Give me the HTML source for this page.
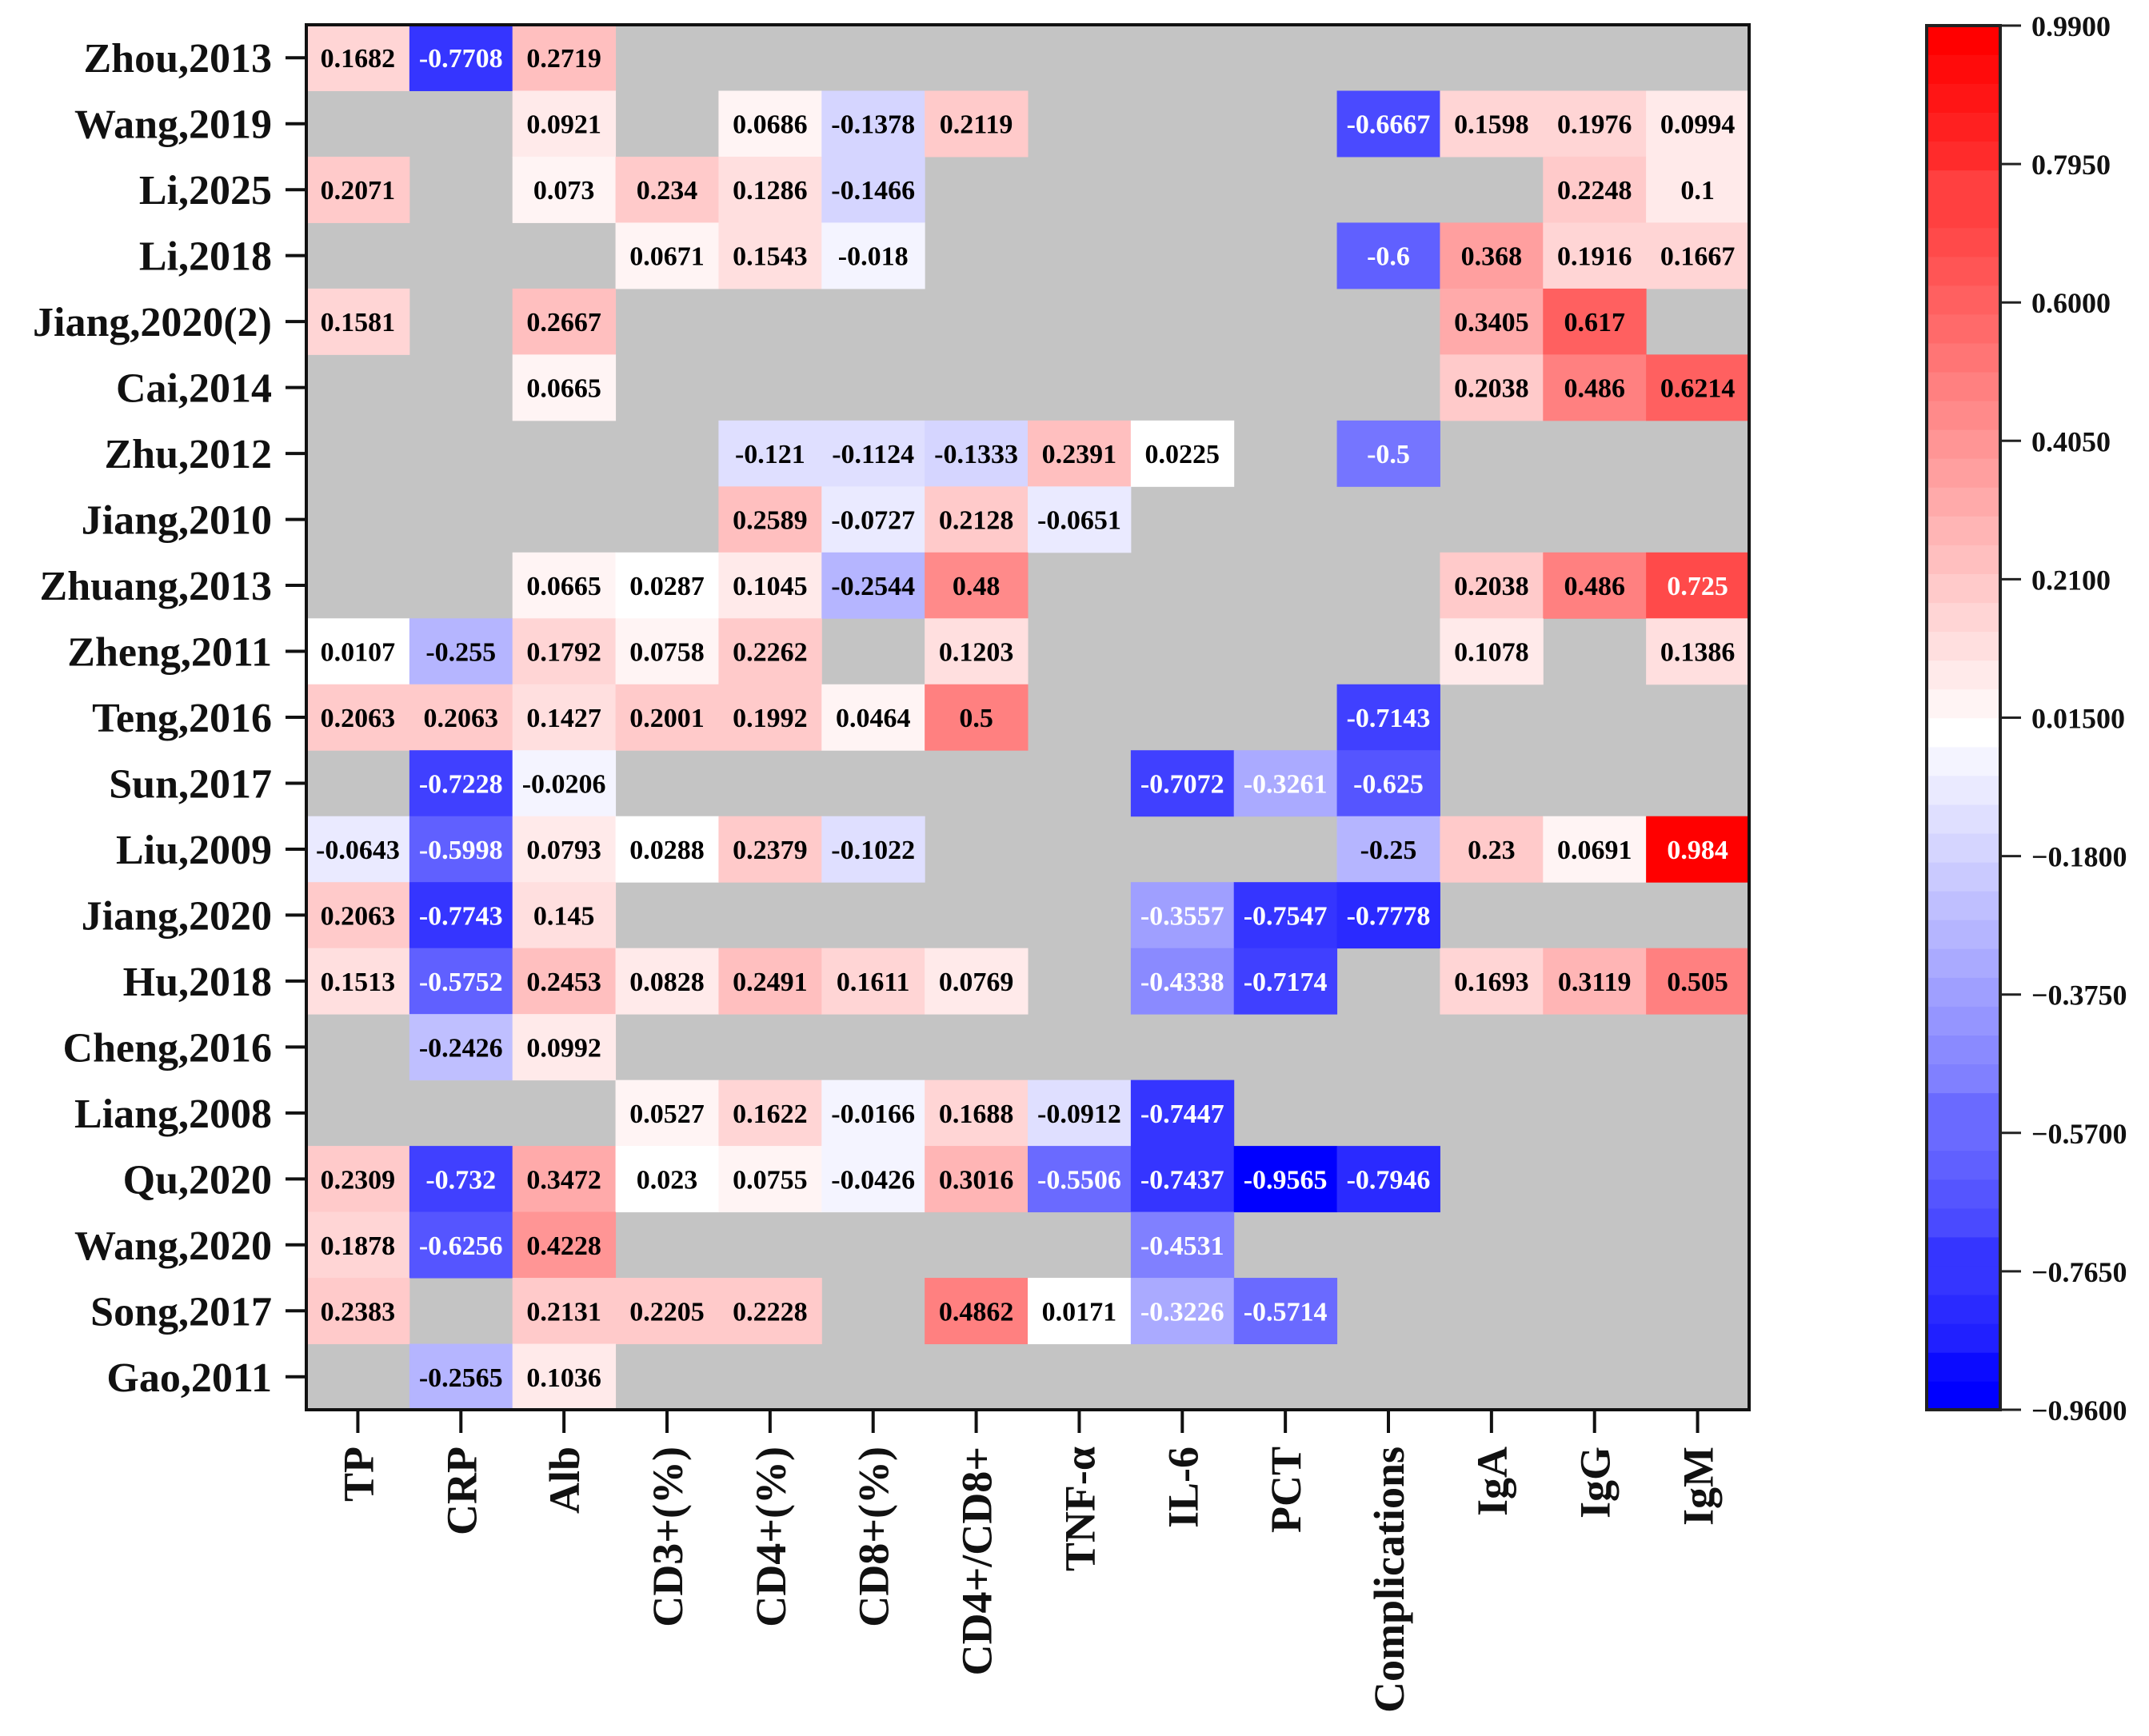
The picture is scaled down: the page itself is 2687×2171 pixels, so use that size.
<!DOCTYPE html>
<html><head><meta charset="utf-8"><style>
html,body{margin:0;padding:0;background:#fff;}
svg{display:block;font-family:"Liberation Serif",serif;font-weight:bold;}
</style></head><body>
<svg id="chart" width="2687" height="2171" viewBox="0 0 2687 2171" xmlns="http://www.w3.org/2000/svg"></svg>
<script>
const rows=["Zhou,2013","Wang,2019","Li,2025","Li,2018","Jiang,2020(2)","Cai,2014","Zhu,2012","Jiang,2010","Zhuang,2013","Zheng,2011","Teng,2016","Sun,2017","Liu,2009","Jiang,2020","Hu,2018","Cheng,2016","Liang,2008","Qu,2020","Wang,2020","Song,2017","Gao,2011"];
const cols=["TP","CRP","Alb","CD3+(%)","CD4+(%)","CD8+(%)","CD4+/CD8+","TNF-α","IL-6","PCT","Complications","IgA","IgG","IgM"];
const N=null;
const values=[
[0.1682,-0.7708,0.2719,N,N,N,N,N,N,N,N,N,N,N],
[N,N,0.0921,N,0.0686,-0.1378,0.2119,N,N,N,-0.6667,0.1598,0.1976,0.0994],
[0.2071,N,0.073,0.234,0.1286,-0.1466,N,N,N,N,N,N,0.2248,0.1],
[N,N,N,0.0671,0.1543,-0.018,N,N,N,N,-0.6,0.368,0.1916,0.1667],
[0.1581,N,0.2667,N,N,N,N,N,N,N,N,0.3405,0.617,N],
[N,N,0.0665,N,N,N,N,N,N,N,N,0.2038,0.486,0.6214],
[N,N,N,N,-0.121,-0.1124,-0.1333,0.2391,0.0225,N,-0.5,N,N,N],
[N,N,N,N,0.2589,-0.0727,0.2128,-0.0651,N,N,N,N,N,N],
[N,N,0.0665,0.0287,0.1045,-0.2544,0.48,N,N,N,N,0.2038,0.486,0.725],
[0.0107,-0.255,0.1792,0.0758,0.2262,N,0.1203,N,N,N,N,0.1078,N,0.1386],
[0.2063,0.2063,0.1427,0.2001,0.1992,0.0464,0.5,N,N,N,-0.7143,N,N,N],
[N,-0.7228,-0.0206,N,N,N,N,N,-0.7072,-0.3261,-0.625,N,N,N],
[-0.0643,-0.5998,0.0793,0.0288,0.2379,-0.1022,N,N,N,N,-0.25,0.23,0.0691,0.984],
[0.2063,-0.7743,0.145,N,N,N,N,N,-0.3557,-0.7547,-0.7778,N,N,N],
[0.1513,-0.5752,0.2453,0.0828,0.2491,0.1611,0.0769,N,-0.4338,-0.7174,N,0.1693,0.3119,0.505],
[N,-0.2426,0.0992,N,N,N,N,N,N,N,N,N,N,N],
[N,N,N,0.0527,0.1622,-0.0166,0.1688,-0.0912,-0.7447,N,N,N,N,N],
[0.2309,-0.732,0.3472,0.023,0.0755,-0.0426,0.3016,-0.5506,-0.7437,-0.9565,-0.7946,N,N,N],
[0.1878,-0.6256,0.4228,N,N,N,N,N,-0.4531,N,N,N,N,N],
[0.2383,N,0.2131,0.2205,0.2228,N,0.4862,0.0171,-0.3226,-0.5714,N,N,N,N],
[N,-0.2565,0.1036,N,N,N,N,N,N,N,N,N,N,N]
];
const cbTicks=["0.9900","0.7950","0.6000","0.4050","0.2100","0.01500","−0.1800","−0.3750","−0.5700","−0.7650","−0.9600"];
const vmin=-0.96, vmax=0.99, vmid=0.015;

const svg=document.getElementById('chart');
const NS="http://www.w3.org/2000/svg";
function mk(t,a,p){const e=document.createElementNS(NS,t);for(const k in a)e.setAttribute(k,a[k]);(p||svg).appendChild(e);return e;}
const PX0=383,PX1=2187,PY0=31,PY1=1763;
const cw=(PX1-PX0)/cols.length, ch=(PY1-PY0)/rows.length;
const xAt=i=>PX0+i*cw, yAt=j=>PY0+j*ch;
function color(v){
  const steps=48;
  let t=(v-vmin)/(vmax-vmin); t=Math.min(1,Math.max(0,Math.floor(t*steps+0.5)/steps)); v=vmin+t*(vmax-vmin);
  let r,g,b;
  if(v<vmid){const f=(vmid-v)/(vmid-vmin);r=g=Math.round(255*(1-f));b=255;}
  else{const f=(v-vmid)/(vmax-vmid);r=255;g=b=Math.round(255*(1-f));}
  return `rgb(${r},${g},${b})`;
}
const bg=mk('rect',{x:PX0,y:PY0,width:PX1-PX0,height:PY1-PY0,fill:'#c4c4c4'});


values.forEach((row,j)=>row.forEach((v,i)=>{
  if(v===null)return;
  const r=mk('rect',{x:xAt(i),y:yAt(j),width:cw+0.5,height:ch+0.5,fill:color(v)});
  
  
  const t=mk('text',{x:xAt(i)+cw/2,y:yAt(j)+ch/2+12,'text-anchor':'middle','font-size':34,fill:(v<-0.3||v>0.7)?'#fff':'#000'});
  t.textContent=String(v).replace(/^(-?)0?\./,'$10.');
  
  
}));
const fr=mk('rect',{x:PX0,y:PY0,width:PX1-PX0,height:PY1-PY0,fill:'none',stroke:'#111','stroke-width':4});


rows.forEach((n,j)=>{
  const y=yAt(j)+ch/2;
  const tk=mk('line',{x1:357,x2:383,y1:y,y2:y,stroke:'#111','stroke-width':4});
  
  
  const t=mk('text',{x:340,y:y+18,'text-anchor':'end','font-size':52,fill:'#111'});
  t.textContent=n;
  
  
});
cols.forEach((n,i)=>{
  const x=xAt(i)+cw/2;
  const tk=mk('line',{x1:x,x2:x,y1:PY1,y2:PY1+29,stroke:'#111','stroke-width':4});
  
  
  const t=mk('text',{x:0,y:0,'text-anchor':'end','font-size':54,fill:'#111',transform:`translate(${x+19},${PY1+46}) rotate(-90)`});
  t.textContent=n;
  
  
});
// colorbar
const CX0=2409,CX1=2501,CY0=32,CY1=1763,nb=48;
for(let k=0;k<nb;k++){
  const v=vmin+(k+0.5)/nb*(vmax-vmin);
  const y1=CY1-(k+1)/nb*(CY1-CY0);
  const r=mk('rect',{x:CX0,y:y1,width:CX1-CX0,height:(CY1-CY0)/nb+0.8,fill:color(v)});
  
  
}
const cbf=mk('rect',{x:CX0,y:CY0,width:CX1-CX0,height:CY1-CY0,fill:'none',stroke:'#222','stroke-width':4});


cbTicks.forEach((s,k)=>{
  const y=CY0+k*(CY1-CY0)/(cbTicks.length-1);
  const tk=mk('line',{x1:CX1,x2:2527,y1:y,y2:y,stroke:'#222','stroke-width':3});
  
  
  const t=mk('text',{x:2540,y:y+13,'font-size':36,fill:'#111'});
  t.textContent=s;
  
  
});
</script>
</body></html>
